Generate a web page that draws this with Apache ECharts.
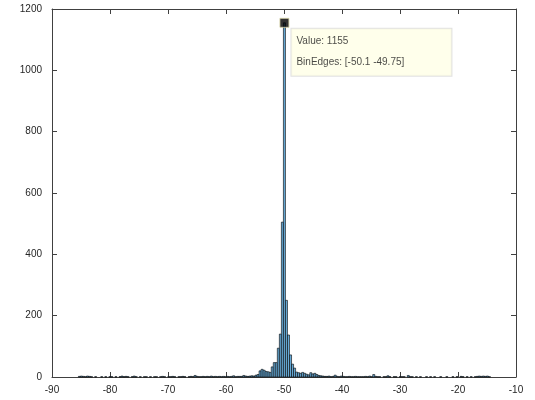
<!DOCTYPE html>
<html>
<head>
<meta charset="utf-8">
<script src="https://cdn.jsdelivr.net/npm/echarts@6/dist/echarts.min.js"></script>
<style>html,body{margin:0;padding:0;background:#fff}#c{width:535px;height:400px}</style>
</head>
<body>
<div id="c"></div>
<script>
// Histogram data: first bin edge, bin width, counts per bin
const firstEdge = -85.45;
const binWidth = 0.35;
const counts = [
  2,3,2,1,3,2,1,0,1,0,
  0,1,0,1,0,1,1,0,1,0,
  1,3,1,2,1,0,1,3,1,0,
  1,0,1,1,0,1,0,1,1,0,
  1,2,1,0,1,1,2,1,0,1,
  1,2,1,0,1,2,1,5,2,1,
  1,2,1,2,1,3,1,2,1,2,
  1,2,1,2,1,2,4,1,2,2,
  2,5,3,2,3,4,3,6,8,20,
  25,22,18,17,15,33,47,47,94,140,
  505,1155,250,137,72,42,29,16,14,12,
  15,12,9,7,14,10,12,8,5,4,
  3,2,2,3,1,2,6,2,1,3,
  2,1,1,2,1,1,2,1,1,1,
  1,2,1,3,1,8,2,1,1,0,
  1,1,4,1,0,1,1,0,1,1,
  1,0,5,1,1,0,1,0,1,0,
  0,1,0,1,0,1,0,0,1,0,
  0,1,0,0,1,0,1,0,2,1,
  0,1,0,1,0,1,2,3,2,3,
  2,3,1
];
const xTicks = [-90,-80,-70,-60,-50,-40,-30,-20,-10];
const yTicks = [0,200,400,600,800,1000,1200];
const tipValue = 1155;
const tipEdges = [-50.1, -49.75];

const bins = counts.map((c, i) => {
  const s = firstEdge + i * binWidth;
  return [s, s + binWidth, c];
});

const axisColor = '#404040';
const labelColor = '#262626';
const font = 'Liberation Sans, Arial, Helvetica, sans-serif';

const chart = echarts.init(document.getElementById('c'), null, {renderer: 'canvas'});
const baseX = {
  type: 'value', min: xTicks[0], max: xTicks[xTicks.length - 1], interval: 10,
  splitLine: {show: false},
  axisLine: {show: true, onZero: false, lineStyle: {color: axisColor, width: 1}},
  axisTick: {show: true, inside: true, length: 5, lineStyle: {color: axisColor}},
};
const baseY = {
  type: 'value', min: yTicks[0], max: yTicks[yTicks.length - 1], interval: 200,
  splitLine: {show: false},
  axisLine: {show: true, onZero: false, lineStyle: {color: axisColor, width: 1}},
  axisTick: {show: true, inside: true, length: 5, lineStyle: {color: axisColor}},
};

chart.setOption({
  animation: false,
  backgroundColor: '#ffffff',
  grid: {left: 52, right: 19, top: 9, bottom: 23, containLabel: false},
  xAxis: [
    Object.assign({}, baseX, {position: 'bottom',
      axisLabel: {show: true, color: labelColor, fontSize: 10, fontFamily: font, margin: 8,
        formatter: v => String(v)}}),
    Object.assign({}, baseX, {position: 'top', axisLabel: {show: false}})
  ],
  yAxis: [
    Object.assign({}, baseY, {position: 'left',
      axisLabel: {show: true, color: labelColor, fontSize: 10, fontFamily: font, margin: 10,
        formatter: v => String(v)}}),
    Object.assign({}, baseY, {position: 'right', axisLabel: {show: false}})
  ],
  series: [
    {
      type: 'custom',
      xAxisIndex: 0, yAxisIndex: 0,
      data: bins,
      encode: {x: [0, 1], y: 2},
      renderItem: function (params, api) {
        const v = api.value(2);
        if (v <= 0) return null;
        const p0 = api.coord([api.value(0), v]);
        const p1 = api.coord([api.value(1), 0]);
        return {
          type: 'rect',
          shape: {x: p0[0], y: p0[1], width: p1[0] - p0[0], height: p1[1] - p0[1]},
          style: {fill: 'rgb(102,170,215)', stroke: '#000000', lineWidth: 0.6}
        };
      },
      z: 2
    },
    {
      type: 'scatter',
      xAxisIndex: 0, yAxisIndex: 0,
      data: [[(tipEdges[0] + tipEdges[1]) / 2, tipValue]],
      symbol: 'rect',
      symbolSize: 9,
      itemStyle: {color: '#000000', borderColor: '#d8d6a8', borderWidth: 1},
      label: {
        show: true,
        position: [12, 11],
        formatter: 'Value: ' + tipValue + '\nBinEdges: [' + tipEdges[0] + ' ' + tipEdges[1] + ']',
        color: '#1a1a1a',
        fontSize: 10,
        fontFamily: font,
        lineHeight: 21,
        align: 'left',
        verticalAlign: 'top',
        backgroundColor: '#ffffe6',
        borderColor: '#d9d9d9',
        borderWidth: 1,
        padding: [2, 6, 3, 5],
        width: 149
      },
      z: 10
    }
  ]
});
</script>
</body>
</html>
